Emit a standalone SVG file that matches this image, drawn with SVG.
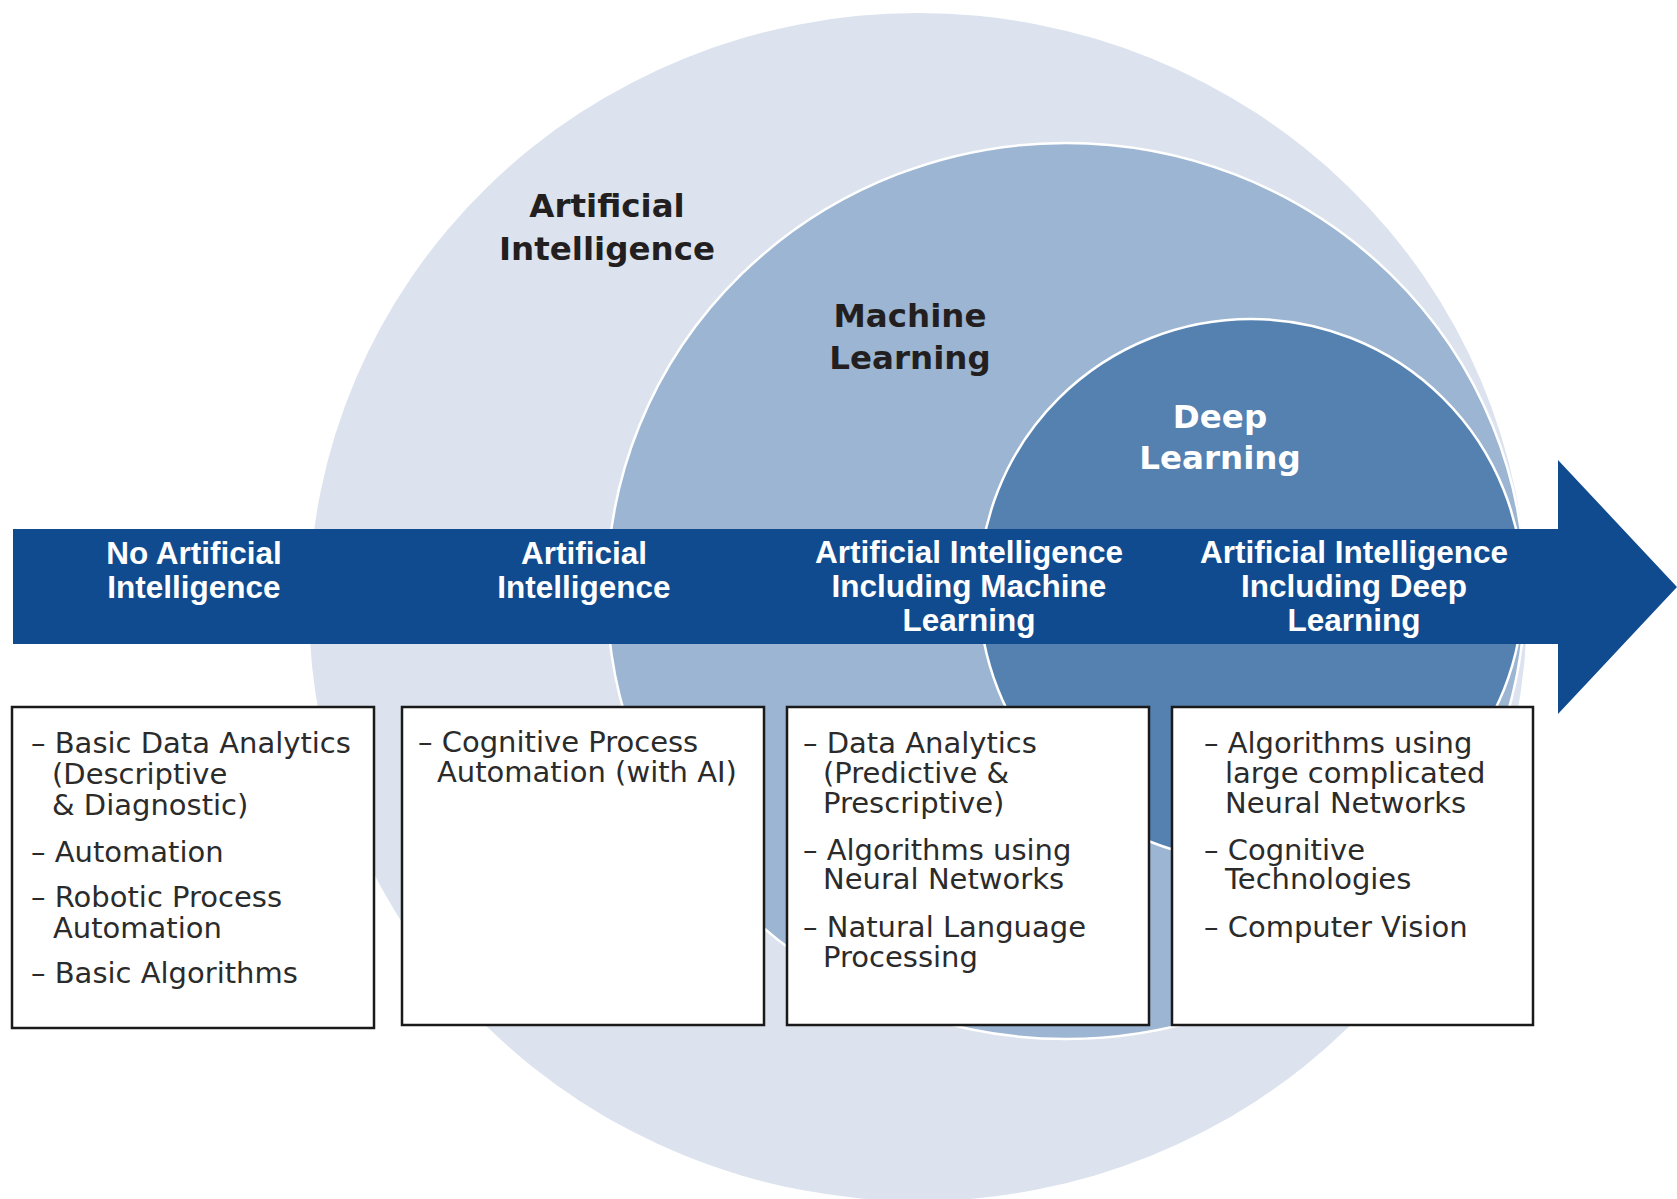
<svg xmlns="http://www.w3.org/2000/svg" width="1677" height="1199" viewBox="0 0 1677 1199">
  <style>
    .circ-label { font-family: "DejaVu Sans", "Liberation Sans", sans-serif; font-weight: bold; font-size: 32.5px; text-anchor: middle; }
    .dark { fill: #231f20; }
    .white { fill: #ffffff; }
    .band-label { font-family: "Liberation Sans", Arial, sans-serif; font-weight: bold; font-size: 31.5px; text-anchor: middle; fill: #ffffff; }
    .box { fill: #ffffff; stroke: #1a1a1a; stroke-width: 2.5; }
    .item { font-family: "DejaVu Sans", "Liberation Sans", sans-serif; font-size: 29px; fill: #2b2b2b; }
    .ring { stroke: #ffffff; stroke-width: 2.5; }
  </style>

  <rect x="0" y="0" width="1677" height="1199" fill="#ffffff"/>

  <g id="circle-ai">
    <ellipse cx="918" cy="607" rx="609" ry="594" fill="#dce3ee"/>
  </g>
  <g id="circle-ml">
    <ellipse class="ring" cx="1066" cy="591" rx="459" ry="448" fill="#9cb5d2"/>
  </g>
  <g id="circle-dl">
    <ellipse class="ring" cx="1251" cy="590" rx="272" ry="271" fill="#5481b0"/>
  </g>

  <g id="circle-labels">
    <text class="circ-label dark" x="607" y="217">Artificial<tspan x="607" y="260">Intelligence</tspan></text>
    <text class="circ-label dark" x="910" y="327">Machine<tspan x="910" y="369">Learning</tspan></text>
    <text class="circ-label white" x="1220" y="428">Deep<tspan x="1220" y="469">Learning</tspan></text>
  </g>

  <g id="timeline-arrow">
    <path d="M13,529 H1558 V460 L1677,587 L1558,714 V644 H13 Z" fill="#114b8f"/>
  </g>

  <g id="stage-no-ai">
    <text class="band-label" x="194" y="564">No Artificial<tspan x="194" y="598">Intelligence</tspan></text>
    <rect class="box" x="12" y="707" width="362" height="321"/>
    <text class="item" x="31" y="753">– Basic Data Analytics<tspan x="52" y="784">(Descriptive</tspan><tspan x="52" y="815">&amp; Diagnostic)</tspan></text>
    <text class="item" x="31" y="862">– Automation</text>
    <text class="item" x="31" y="907">– Robotic Process<tspan x="53" y="938">Automation</tspan></text>
    <text class="item" x="31" y="983">– Basic Algorithms</text>
  </g>

  <g id="stage-ai">
    <text class="band-label" x="584" y="564">Artificial<tspan x="584" y="598">Intelligence</tspan></text>
    <rect class="box" x="402" y="707" width="362" height="318"/>
    <text class="item" x="418" y="752">– Cognitive Process<tspan x="437" y="782">Automation (with AI)</tspan></text>
  </g>

  <g id="stage-ml">
    <text class="band-label" x="969" y="563">Artificial Intelligence<tspan x="969" y="597">Including Machine</tspan><tspan x="969" y="631">Learning</tspan></text>
    <rect class="box" x="787" y="707" width="362" height="318"/>
    <text class="item" x="803" y="753">– Data Analytics<tspan x="823" y="783">(Predictive &amp;</tspan><tspan x="823" y="813">Prescriptive)</tspan></text>
    <text class="item" x="803" y="860">– Algorithms using<tspan x="823" y="889">Neural Networks</tspan></text>
    <text class="item" x="803" y="937">– Natural Language<tspan x="823" y="967">Processing</tspan></text>
  </g>

  <g id="stage-dl">
    <text class="band-label" x="1354" y="563">Artificial Intelligence<tspan x="1354" y="597">Including Deep</tspan><tspan x="1354" y="631">Learning</tspan></text>
    <rect class="box" x="1172" y="707" width="361" height="318"/>
    <text class="item" x="1204" y="753">– Algorithms using<tspan x="1225" y="783">large complicated</tspan><tspan x="1225" y="813">Neural Networks</tspan></text>
    <text class="item" x="1204" y="860">– Cognitive<tspan x="1225" y="889">Technologies</tspan></text>
    <text class="item" x="1204" y="937">– Computer Vision</text>
  </g>

  <g id="connectors"></g>
</svg>
